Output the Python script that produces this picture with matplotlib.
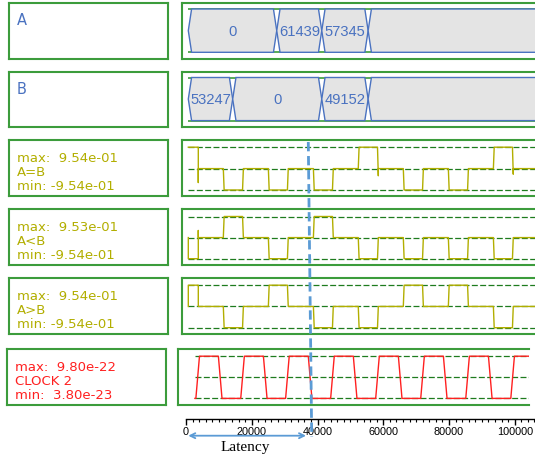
import matplotlib.pyplot as plt
from matplotlib.patches import Polygon
from matplotlib.ticker import MultipleLocator

plt.rcParams['lines.scale_dashes'] = False

W, H = 535, 456
X0_PX = 186.0                 # pixel column of t = 0
PX_PER_T = 65.75 / 20000      # pixels per time unit

# ---- data ----
a_times = [700, 27600, 41300, 55400, 120000]
a_values = ['0', '61439', '57345', '']
b_times = [700, 14200, 41300, 55400, 120000]
b_values = ['53247', '0', '49152', '']

slot_on = [11350, 25050, 38750, 52400, 66100, 79800, 93500]
slot_off = [17450, 31100, 44800, 58500, 72200, 85900, 99550]

eq_max, eq_min = 0.954, -0.954
lt_max, lt_min = 0.953, -0.954
gt_max, gt_min = 0.954, -0.954

eq_pulse = [-1, -1, -1, 1, -1, -1, 1]
lt_pulse = [1, -1, 1, -1, -1, -1, -1]
gt_pulse = [-1, 1, -1, -1, 1, 1, -1]

eq_glitch = [0, 0, 0, -0.32, 0, 0, -0.25]
lt_glitch = [0, 0, 0, 0, 0, 0, 0]
gt_glitch = [0, 0, 0, 0, 0, 0, 0]

eq_head_t = [700, 3740, 3740, 3740]
eq_head_v = [0.954, 0.954, -0.62, 0]
lt_head_t = [700, 700, 3740, 3740, 3740]
lt_head_v = [0, -0.954, -0.954, 0.32, 0]
gt_head_t = [700, 700, 3740, 3740]
gt_head_v = [0, 0.954, 0.954, 0]

clk_max, clk_min = 9.80e-22, 3.80e-23
clk_start = 2700
clk_rise = [3000, 16650, 30300, 44000, 57700, 71400, 85100, 98800]
clk_fall = [9850, 23550, 37200, 50900, 64600, 78300, 92000]

marker_t = [37200, 38240]     # dashed latency marker (top, bottom)
latency_t = [700, 36500]

# ---- styles ----
BOX_GREEN = '#3c9c3c'
DASH_GREEN = '#1e7b1e'
OLIVE = '#b2ae00'
BLUE = '#4a72c0'
RED = '#ff2020'
LIGHT_BLUE = '#5b9bd5'
EDGE = 250
CLK_EDGE = 1100
T_END = 120000

fig = plt.figure(figsize=(W / 100, H / 100), dpi=100)


def t_at(px):
    return (px - X0_PX) / PX_PER_T


def px_axes(x0, y0, x1, y1):
    return fig.add_axes([x0 / W, 1 - y1 / H, (x1 - x0) / W, (y1 - y0) / H])


def box_style(ax, right=True):
    ax.set_xticks([])
    ax.set_yticks([])
    ax.patch.set_alpha(0)
    for name, sp in ax.spines.items():
        sp.set_color(BOX_GREEN)
        sp.set_linewidth(1.5)
    ax.spines['right'].set_visible(right)


def label_box(x0, y0, x1, y1, lines, color):
    ax = px_axes(x0, y0, x1, y1)
    box_style(ax)
    offs = [17.3, 31.3, 45.3]
    for s, dy in zip(lines, offs):
        fig.text((x0 + 7.5) / W, 1 - (y0 + dy) / H, s, color=color,
                 fontsize=9.5, va='center', ha='left')


def bus_row(y0, y1, times, values):
    ax = px_axes(181.7, y0, 545, y1)
    box_style(ax)
    ax.set_xlim(t_at(181.7), t_at(545))
    # bus top 6 px below box top, bottom 6.7 px above box bottom
    span = (y1 - y0 - 12.7) / 2
    ax.set_ylim(-1 - 6.7 / span, 1 + 6.0 / span)
    ax.hlines([1, -1], times[0], T_END, colors=BOX_GREEN, lw=1.2, zorder=1)
    h = 1000
    for t0, t1, s in zip(times[:-1], times[1:], values):
        pts = [(t0, 0), (t0 + h, 1), (t1 - h, 1), (t1, 0), (t1 - h, -1), (t0 + h, -1)]
        ax.add_patch(Polygon(pts, closed=True, fc='#e4e4e4', ec=BLUE, lw=1.0, zorder=2))
        if s:
            ax.text((t0 + t1) / 2, 0, s, ha='center', va='center', color=BLUE,
                    fontsize=10.6, family='Liberation Sans', zorder=3)
    return ax


def analog(head_t, head_v, pulse, glitch, vmax, vmin):
    t = list(head_t)
    v = list(head_v)
    for on, off, p, g in zip(slot_on, slot_off, pulse, glitch):
        lvl = vmax if p > 0 else vmin
        t += [on, on + EDGE, off - EDGE, off, off]
        v += [0, lvl, lvl, g, 0]
    t.append(T_END)
    v.append(0)
    return t, v


def wave_row(x0, x1, y0, y1, t, v, vmax, vmin, color, start, right=True):
    ax = px_axes(x0, y0, x1, y1)
    box_style(ax, right)
    ax.set_xlim(t_at(x0), t_at(x1))
    per_px = (vmax - vmin) / (y1 - y0 - 13.5)
    ax.set_ylim(vmin - 6.3 * per_px, vmax + 7.2 * per_px)
    mid = (vmax + vmin) / 2
    ax.hlines([vmax, mid, vmin], start, T_END, colors=DASH_GREEN, lw=0.9,
              linestyles=[(0, (4.3, 1.7))], zorder=1)
    ax.plot(t, v, color=color, lw=1.0, zorder=2)
    return ax


# label boxes
label_box(9, 4, 168.3, 60, [], BLUE)
fig.text(16.5 / W, 1 - 20.7 / H, 'A', color=BLUE, fontsize=10.5, va='center')
label_box(9, 72.5, 168.3, 128.3, [], BLUE)
fig.text(16.5 / W, 1 - 89.3 / H, 'B', color=BLUE, fontsize=10.5, va='center')
label_box(9.3, 141, 167.7, 197.3,
          [f'max:  {eq_max:.2e}', 'A=B', f'min: {eq_min:.2e}'], OLIVE)
label_box(9.3, 210.3, 167.7, 266,
          [f'max:  {lt_max:.2e}', 'A<B', f'min: {lt_min:.2e}'], OLIVE)
label_box(9.3, 279, 167.7, 335,
          [f'max:  {gt_max:.2e}', 'A>B', f'min: {gt_min:.2e}'], OLIVE)
label_box(7.3, 350, 165.7, 405.7,
          [f'max:  {clk_max:.2e}', 'CLOCK 2', f'min:  {clk_min:.2e}'], RED)

# bus rows
bus_row(4, 60, a_times, a_values)
bus_row(72.5, 128.3, b_times, b_values)

# analog rows
t, v = analog(eq_head_t, eq_head_v, eq_pulse, eq_glitch, eq_max, eq_min)
wave_row(181.7, 545, 141, 197.3, t, v, eq_max, eq_min, OLIVE, 700)
t, v = analog(lt_head_t, lt_head_v, lt_pulse, lt_glitch, lt_max, lt_min)
wave_row(181.7, 545, 210.3, 266, t, v, lt_max, lt_min, OLIVE, 700)
t, v = analog(gt_head_t, gt_head_v, gt_pulse, gt_glitch, gt_max, gt_min)
wave_row(181.7, 545, 279, 335, t, v, gt_max, gt_min, OLIVE, 700)

# clock row
ct = [clk_start]
cv = [clk_min]
for i, r in enumerate(clk_rise):
    ct += [r, r + CLK_EDGE]
    cv += [clk_min, clk_max]
    if i < len(clk_fall):
        ct += [clk_fall[i], clk_fall[i] + CLK_EDGE]
        cv += [clk_max, clk_min]
ct.append(T_END)
cv.append(clk_max)
wave_row(178.3, 529.3, 350, 405.7, ct, cv, clk_max, clk_min, RED, clk_start, right=False)

# time axis
tax = px_axes(X0_PX, 405, 545, 420)
tax.set_xlim(0, t_at(545))
tax.set_yticks([])
tax.patch.set_alpha(0)
for name in ['top', 'left', 'right']:
    tax.spines[name].set_visible(False)
tax.spines['bottom'].set_linewidth(1.0)
tax.xaxis.set_major_locator(MultipleLocator(20000))
tax.xaxis.set_minor_locator(MultipleLocator(2000))
tax.tick_params(axis='x', which='major', direction='out', length=4.2, width=1.0,
                labelsize=7.8, pad=0.8)
tax.tick_params(axis='x', which='minor', direction='out', length=2.5, width=0.8)
for lab in tax.get_xticklabels():
    lab.set_family('Liberation Sans')

# overlay: latency marker and arrow
ov = fig.add_axes([0, 0, 1, 1])
ov.set_xlim(t_at(0), t_at(W))
ov.set_ylim(H, 0)
ov.axis('off')
ov.patch.set_alpha(0)
ov.plot(marker_t, [143, 438], color=LIGHT_BLUE, lw=2.0,
        linestyle=(0, (6.7, 3.4)), zorder=5)
ov.annotate('', xy=(latency_t[0], 436.7), xytext=(latency_t[1], 436.7),
            arrowprops=dict(arrowstyle='<->', color=LIGHT_BLUE, lw=1.3,
                            shrinkA=0, shrinkB=0, mutation_scale=9))
ov.text(t_at(245), 448, 'Latency', ha='center', va='center',
        family='Liberation Serif', fontsize=11)

plt.savefig('out.png', dpi=100)
